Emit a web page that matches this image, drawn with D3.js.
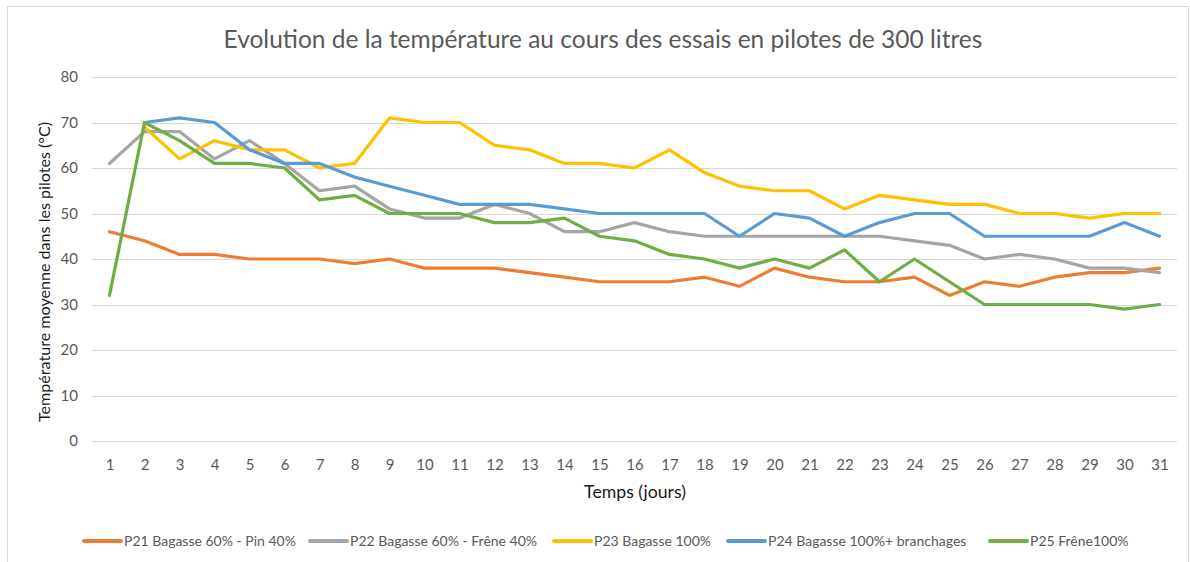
<!DOCTYPE html>
<html>
<head>
<meta charset="utf-8">
<script src="https://cdn.jsdelivr.net/npm/d3@7"></script>
<style>
  html, body { margin: 0; padding: 0; background: #fff; }
  svg { display: block; }
  text { font-family: Lato, "Noto Sans", sans-serif; fill: #595959; }
</style>
</head>
<body>
<svg id="chart" width="1190" height="562"></svg>
<script>
const days = d3.range(1, 32);
const yTicks = [0, 10, 20, 30, 40, 50, 60, 70, 80];
const seriesNames = [
  "P21 Bagasse 60% - Pin 40%",
  "P22 Bagasse 60% - Frêne 40%",
  "P23 Bagasse 100%",
  "P24 Bagasse 100%+ branchages",
  "P25 Frêne100%"
];
const seriesColors = ["#ED7D31", "#A5A5A5", "#FFC000", "#5B9BD5", "#70AD47"];
const p21 = [46,44,41,41,40,40,40,39,40,38,38,38,37,36,35,35,35,36,34,38,36,35,35,36,32,35,34,36,37,37,38];
const p22 = [61,68,68,62,66,61,55,56,51,49,49,52,50,46,46,48,46,45,45,45,45,45,45,44,43,40,41,40,38,38,37];
const p23 = [null,69,62,66,64,64,60,61,71,70,70,65,64,61,61,60,64,59,56,55,55,51,54,53,52,52,50,50,49,50,50];
const p24 = [null,70,71,70,64,61,61,58,56,54,52,52,52,51,50,50,50,50,45,50,49,45,48,50,50,45,45,45,45,48,45];
const p25 = [32,70,66,61,61,60,53,54,50,50,50,48,48,49,45,44,41,40,38,40,38,42,35,40,35,30,30,30,30,29,30];
const seriesValues = [p21, p22, p23, p24, p25];

const titleText = "Evolution de la température au cours des essais en pilotes de 300 litres";
const xTitle = "Temps (jours)";
const yTitle = "Température moyenne dans les pilotes (°C)";

const svg = d3.select("#chart");

// chart border
svg.append("rect")
  .attr("x", 7.5).attr("y", 6.5)
  .attr("width", 1181).attr("height", 560)
  .attr("fill", "none").attr("stroke", "#D9D9D9").attr("stroke-width", 1);

const x = d3.scalePoint().domain(days).range([92, 1177]).padding(0.5);
const y = d3.scaleLinear().domain([0, 80]).range([441, 77]);

// gridlines
svg.append("g")
  .selectAll("line")
  .data(yTicks)
  .join("line")
  .attr("x1", 92).attr("x2", 1177)
  .attr("y1", d => Math.round(y(d)) + 0.5)
  .attr("y2", d => Math.round(y(d)) + 0.5)
  .attr("stroke", "#D9D9D9").attr("stroke-width", 1);

// y tick labels
const yAxis = d3.axisLeft(y).tickValues(yTicks).tickSize(0).tickPadding(0);
const gy = svg.append("g").attr("transform", "translate(78,0)").call(yAxis);
gy.select(".domain").remove();
gy.selectAll("text").attr("font-size", 15).attr("fill", "#595959")
  .style("font-family", "Lato, 'Noto Sans', sans-serif");

// x tick labels
const xAxis = d3.axisBottom(x).tickSize(0).tickPadding(0);
const gx = svg.append("g").attr("transform", "translate(0,459)").call(xAxis);
gx.select(".domain").remove();
gx.selectAll("text").attr("font-size", 15).attr("fill", "#595959")
  .style("font-family", "Lato, 'Noto Sans', sans-serif");

// lines
const line = d3.line()
  .defined(d => d.v !== null)
  .x(d => x(d.day))
  .y(d => y(d.v));

seriesValues.forEach((vals, i) => {
  svg.append("path")
    .datum(vals.map((v, j) => ({ day: days[j], v })))
    .attr("d", line)
    .attr("fill", "none")
    .attr("stroke", seriesColors[i])
    .attr("stroke-width", 3.2)
    .attr("stroke-linejoin", "round")
    .attr("stroke-linecap", "round");
});

// title
svg.append("text")
  .attr("x", 603).attr("y", 48)
  .attr("text-anchor", "middle")
  .attr("font-size", 24.5)
  .text(titleText);

// axis titles
svg.append("text")
  .attr("x", 635).attr("y", 498)
  .attr("text-anchor", "middle")
  .attr("font-size", 17.7)
  .style("fill", "#1a1a1a")
  .text(xTitle);

svg.append("text")
  .attr("transform", "translate(50,272) rotate(-90)")
  .attr("text-anchor", "middle")
  .attr("font-size", 16.1)
  .style("fill", "#1a1a1a")
  .text(yTitle);

// legend
const legendX = [83, 309, 553, 727, 989];
const lg = svg.append("g");
seriesNames.forEach((name, i) => {
  const g = lg.append("g").attr("transform", `translate(${legendX[i]},541)`);
  g.append("line").attr("x1", 1).attr("x2", 38).attr("y1", 0).attr("y2", 0)
    .attr("stroke", seriesColors[i]).attr("stroke-width", 4).attr("stroke-linecap", "round");
  g.append("text").attr("x", 41).attr("y", 5).attr("font-size", 14).text(name);
});
</script>
</body>
</html>
